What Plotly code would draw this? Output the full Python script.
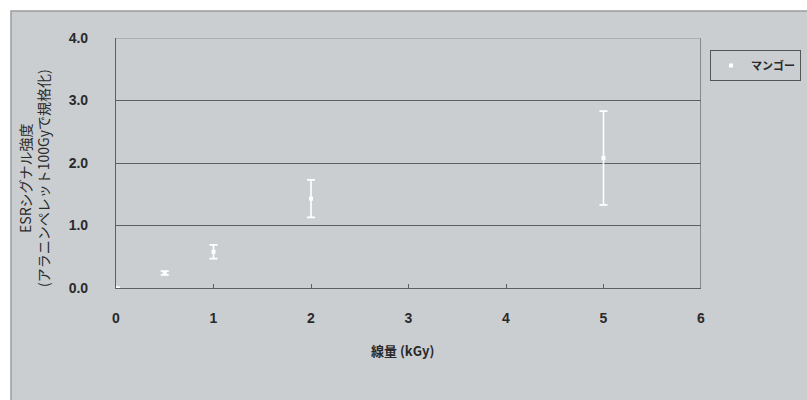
import plotly.graph_objects as go

# Dose (kGy) and normalised ESR signal intensity for mango
dose = [0, 0.5, 1, 2, 5]
signal = [0.0, 0.24, 0.58, 1.43, 2.08]
err_plus = [0.01, 0.03, 0.11, 0.30, 0.75]
err_minus = [0.01, 0.03, 0.11, 0.30, 0.75]
series_name = "マンゴー"

x_ticks = [0, 1, 2, 3, 4, 5, 6]
y_ticks = [0, 1, 2, 3, 4]
y_tick_text = ["0.0", "1.0", "2.0", "3.0", "4.0"]

BG = "#cbced0"
GRID = "#5c6062"
TEXT = "#2a2a2a"
JP = "Noto Sans CJK JP, Liberation Sans, Arial, sans-serif"

W, H = 807, 400
ML, MR, MT, MB = 116, 106, 38, 112
pw = W - ML - MR
ph = H - MT - MB

fig = go.Figure()
fig.add_trace(go.Scatter(
    x=dose, y=signal, mode="markers", name=series_name,
    marker=dict(color="white", size=4, symbol="square"),
    error_y=dict(type="data", array=err_plus, arrayminus=err_minus,
                 color="white", thickness=1.6, width=4),
))

# grey chart area with thin border
fig.add_shape(type="rect", xref="paper", yref="paper", layer="below",
              x0=(11 - ML) / pw, x1=(W + 5 - ML) / pw,
              y0=-(H + 10 - MT - ph) / ph,
              y1=(ph + MT - 11) / ph,
              fillcolor=BG, line=dict(color="#9a9c9e", width=1.5))
# right border of plot area
fig.add_shape(type="line", xref="x", yref="y", x0=6, x1=6, y0=0, y1=4,
              line=dict(color=GRID, width=1.2))
# lighter top border
fig.add_shape(type="line", xref="x", yref="y", x0=0, x1=6, y0=4, y1=4,
              line=dict(color="#8d9193", width=1), layer="above")

fig.add_annotation(text="ESRシグナル強度<br>(アラニンペレット100Gyで規格化)",
                   xref="paper", yref="paper",
                   x=(34 - ML) / pw, y=(ph + MT - 178) / ph,
                   xanchor="center", yanchor="middle",
                   textangle=-90, showarrow=False,
                   font=dict(family=JP, size=14, color=TEXT), align="center")
fig.add_annotation(text="<b>線量 (kGy)</b>", xref="paper", yref="paper",
                   x=(402 - ML) / pw, y=(ph + MT - 350) / ph,
                   xanchor="center", yanchor="middle",
                   showarrow=False, font=dict(family=JP, size=13, color=TEXT))

fig.update_layout(
    width=W, height=H,
    margin=dict(l=ML, r=MR, t=MT, b=MB, autoexpand=False),
    paper_bgcolor="white", plot_bgcolor=BG,
    showlegend=True,
    legend=dict(x=(710 - ML) / pw, y=(ph + MT - 50) / ph,
                xanchor="left", yanchor="top",
                bgcolor=BG, bordercolor="#555", borderwidth=1,
                font=dict(family=JP, size=11, color=TEXT, weight="bold"),
                itemwidth=30, tracegroupgap=0),
    xaxis=dict(range=[0, 6], tickvals=x_ticks, showgrid=False, zeroline=False,
               showline=True, linecolor=GRID, linewidth=1.2,
               ticks="inside", ticklen=4, tickcolor=GRID,
               ticklabelstandoff=17,
               tickfont=dict(family="Liberation Sans, Arial", size=14,
                             color=TEXT, weight="bold")),
    yaxis=dict(range=[0, 4], tickvals=y_ticks, ticktext=y_tick_text,
               showgrid=True, gridcolor=GRID, gridwidth=1.2, zeroline=False,
               showline=True, linecolor=GRID, linewidth=1.2,
               ticks="", ticklabelstandoff=24,
               tickfont=dict(family="Liberation Sans, Arial", size=14,
                             color=TEXT, weight="bold")),
)

fig.write_html("out.html")
